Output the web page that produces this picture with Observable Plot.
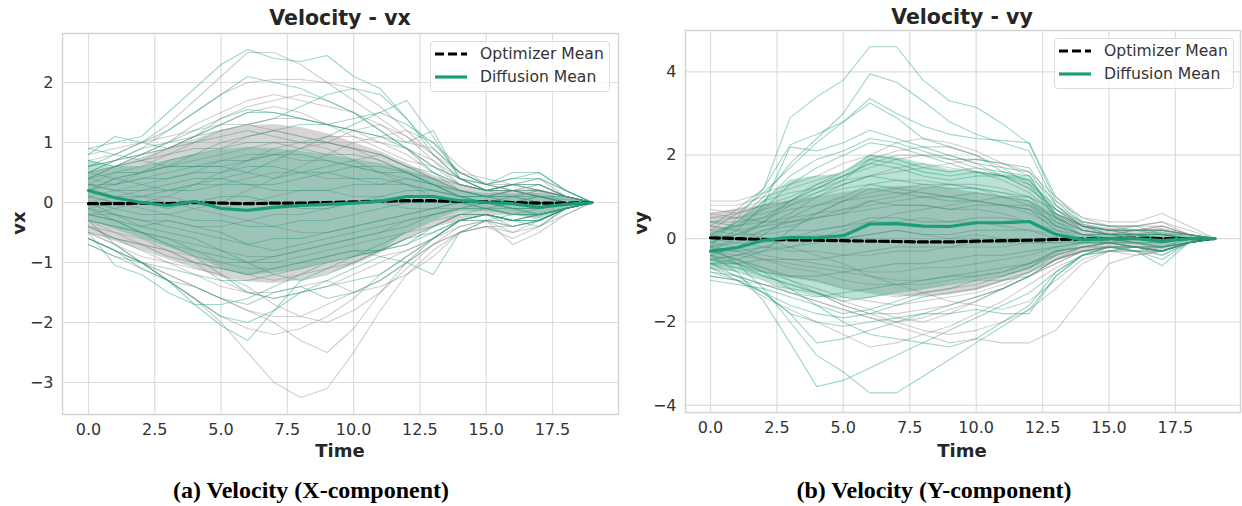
<!DOCTYPE html>
<html>
<head>
<meta charset="utf-8">
<script src="https://cdn.jsdelivr.net/npm/d3@7"></script>
<script src="https://cdn.jsdelivr.net/npm/@observablehq/plot@0.6"></script>
<style>
  html, body { margin: 0; padding: 0; background: #fff; }
  #root { position: relative; width: 1242px; height: 506px; overflow: hidden; font-family: "DejaVu Sans", sans-serif; color: #262626; }
  .panel { position: absolute; top: 0; }
  .title { position: absolute; font-weight: bold; font-size: 20.5px; transform: translate(-50%, -50%); white-space: nowrap; }
  .xlab { position: absolute; font-weight: bold; font-size: 18px; transform: translate(-50%, -50%); white-space: nowrap; }
  .ylab { position: absolute; font-weight: bold; font-size: 18px; transform: translate(-50%, -50%) rotate(-90deg); white-space: nowrap; }
  .caption { position: absolute; font-family: "Liberation Serif", "Times New Roman", serif; font-weight: bold; font-size: 24px; transform: translate(-50%, -50%); white-space: nowrap; color: #000; }
  .legend { position: absolute; border: 1px solid #dcdcdc; border-radius: 4px; background: rgba(255,255,255,0.8); box-sizing: border-box; }
  .legend .row { position: absolute; left: 0; height: 20px; display: flex; align-items: center; font-size: 15.6px; color: #333; white-space: nowrap; }
  .legend svg { margin-left: 4px; margin-right: 13px; }
</style>
</head>
<body>
<div id="root"></div>
<script>
// ---------- data ----------
const time = [0,1,2,3,4,5,6,7,8,9,10,11,12,13,14,15,16,17,18,19];
const xTicks = [0,2.5,5,7.5,10,12.5,15,17.5];
const vxTicks = [-3,-2,-1,0,1,2];
const vyTicks = [-4,-2,0,2,4];

// Optimizer trajectories, vx
const vxOptRuns = [
  [0.7,0.8,1.0,1.3,1.7,2.1,2.5,2.5,2.3,2.0,1.7,1.4,1.1,0.7,0.4,0.3,0.2,0.3,0.1,0],
  [0.5,0.7,0.9,1.2,1.5,1.8,2.0,2.05,2.05,2.0,1.9,1.6,1.2,0.8,0.5,0.3,0.3,0.2,0.1,0],
  [0.4,0.6,0.8,1.0,1.3,1.5,1.7,1.8,1.7,1.6,1.5,1.3,1.0,0.9,0.5,0.4,0.3,0.4,0.2,0],
  [0.6,0.7,0.8,0.9,1.1,1.3,1.5,1.6,1.5,1.3,1.1,0.9,0.7,0.6,0.4,0.3,0.2,0.2,0.1,0],
  [0.3,0.5,0.6,0.8,1.0,1.2,1.3,1.4,1.4,1.3,1.2,1.0,0.9,0.7,0.3,0.2,0.3,0.2,0.1,0],
  [0.2,0.3,0.5,0.6,0.8,0.9,1.1,1.2,1.1,1.0,0.9,0.8,0.6,0.4,0.2,0.1,0.2,0.1,0.05,0],
  [0.1,0.2,0.3,0.4,0.5,0.7,0.8,0.8,0.7,0.7,0.6,0.5,0.4,0.3,0.2,0.1,0.0,0.1,0.0,0],
  [0.0,0.1,0.2,0.2,0.3,0.3,0.4,0.5,0.5,0.4,0.4,0.3,0.3,0.2,0.1,0.1,0.1,0.0,0.0,0],
  [-0.1,0.0,0.1,0.1,0.0,-0.1,0.0,0.1,0.2,0.2,0.1,0.1,0.0,0.0,0.0,-0.1,0.0,-0.1,0.0,0],
  [-0.2,-0.2,-0.3,-0.3,-0.4,-0.4,-0.3,-0.2,-0.2,-0.1,0.0,0.0,-0.1,-0.1,0.0,0.0,-0.1,-0.1,0.0,0],
  [0.3,0.2,0.1,0.0,-0.1,-0.2,-0.3,-0.4,-0.5,-0.5,-0.4,-0.3,-0.2,-0.1,-0.1,0.0,-0.1,-0.1,0.0,0],
  [-0.3,-0.4,-0.5,-0.6,-0.7,-0.8,-0.9,-0.9,-0.8,-0.7,-0.6,-0.5,-0.3,-0.2,-0.1,-0.1,-0.2,-0.1,0.0,0],
  [-0.4,-0.5,-0.7,-0.8,-1.0,-1.1,-1.2,-1.3,-1.2,-1.1,-1.0,-0.8,-0.6,-0.4,-0.2,-0.2,-0.3,-0.2,-0.1,0],
  [-0.5,-0.7,-0.9,-1.0,-1.2,-1.4,-1.5,-1.6,-1.5,-1.4,-1.2,-1.0,-0.8,-0.6,-0.4,-0.3,-0.3,-0.2,-0.1,0],
  [-0.6,-0.8,-1.0,-1.2,-1.4,-1.6,-1.8,-1.9,-1.9,-1.7,-1.5,-1.3,-1.0,-0.7,-0.5,-0.4,-0.6,-0.4,-0.2,0],
  [-0.5,-0.7,-1.0,-1.2,-1.4,-1.6,-1.8,-2.0,-2.3,-2.5,-2.1,-1.5,-1.0,-0.7,-0.5,-0.3,-0.7,-0.5,-0.2,0],
  [-0.6,-0.8,-1.0,-1.3,-1.6,-2.0,-2.5,-3.0,-3.25,-3.1,-2.5,-1.8,-1.2,-0.8,-0.5,-0.4,-0.4,-0.3,-0.1,0],
  [-0.7,-0.9,-1.1,-1.3,-1.6,-1.9,-2.1,-2.2,-2.1,-1.9,-1.6,-1.2,-0.9,-0.6,-0.3,-0.3,-0.4,-0.3,-0.1,0],
  [0.8,0.9,1.0,1.1,1.2,1.3,1.3,1.2,1.1,1.0,0.9,0.7,0.5,0.4,0.3,0.2,0.1,0.2,0.1,0],
  [0.1,0.0,-0.1,-0.2,-0.1,0.0,0.2,0.4,0.6,0.8,1.0,1.1,1.2,1.0,0.6,0.3,0.2,0.1,0.0,0],
  [-0.1,-0.3,-0.5,-0.7,-0.8,-1.0,-1.1,-1.1,-1.0,-0.9,-0.8,-0.9,-0.8,-0.6,-0.3,-0.2,-0.4,-0.3,-0.1,0],
  [0.4,0.3,0.4,0.5,0.6,0.6,0.7,0.8,0.9,1.0,1.2,1.3,1.1,0.8,0.4,0.2,0.3,0.4,0.1,0],
  [-0.2,-0.1,0.0,0.1,0.3,0.5,0.7,0.9,1.0,0.9,0.7,0.5,0.3,0.1,0.0,-0.1,0.0,0.0,0.0,0],
  [-0.3,-0.5,-0.6,-0.8,-1.0,-1.3,-1.5,-1.5,-1.4,-1.3,-1.5,-1.4,-1.2,-0.9,-0.5,-0.4,-0.5,-0.3,-0.1,0],
  [0.5,0.6,0.7,0.9,1.1,1.4,1.6,1.7,1.8,1.7,1.5,1.2,0.9,0.6,0.3,0.2,0.2,0.3,0.1,0],
  [-0.4,-0.6,-0.8,-1.0,-1.1,-1.2,-1.4,-1.7,-1.9,-2.0,-1.8,-1.5,-1.1,-0.7,-0.4,-0.3,-0.5,-0.4,-0.1,0],
  [0.2,0.4,0.5,0.6,0.7,0.8,0.9,1.0,1.0,1.1,1.1,1.0,0.8,0.5,0.2,0.1,0.1,0.2,0.0,0],
  [-0.5,-0.6,-0.7,-0.8,-0.9,-1.0,-1.0,-1.0,-0.9,-0.8,-0.7,-0.6,-0.5,-0.4,-0.3,-0.2,-0.3,-0.2,-0.1,0]
];

// Diffusion trajectories, vx
const vxDiffRuns = [
  [0.9,1.0,1.1,1.5,1.9,2.3,2.55,2.4,2.35,2.45,2.1,1.9,1.4,0.9,0.5,0.3,0.4,0.5,0.2,0],
  [0.6,0.8,1.0,1.2,1.5,1.8,2.1,2.0,1.9,1.7,1.5,1.2,0.9,0.5,0.3,0.2,0.3,0.2,0.1,0],
  [0.5,0.7,0.8,1.0,1.2,1.4,1.55,1.5,1.4,1.3,1.2,1.1,1.0,1.2,0.4,0.3,0.5,0.5,0.2,0],
  [0.8,1.1,1.0,0.9,1.0,1.1,1.2,1.1,1.0,1.0,0.9,0.8,0.6,0.5,0.3,0.2,0.2,0.1,0.1,0],
  [0.7,0.6,0.7,0.8,0.9,0.9,1.0,1.0,0.9,0.8,0.8,0.7,0.5,0.3,0.2,0.1,0.2,0.2,0.1,0],
  [0.4,0.5,0.5,0.6,0.6,0.7,0.7,0.8,0.8,0.7,0.6,0.5,0.5,0.3,0.1,0.1,0.0,0.1,0.0,0],
  [0.3,0.3,0.4,0.4,0.5,0.5,0.6,0.6,0.5,0.5,0.4,0.4,0.3,0.2,0.1,0.0,0.1,0.0,0.0,0],
  [0.2,0.1,0.1,0.2,0.2,0.3,0.3,0.2,0.2,0.2,0.3,0.3,0.4,0.3,0.1,0.0,0.0,-0.1,0.0,0],
  [0.1,0.0,0.0,-0.1,0.0,0.1,0.1,0.0,-0.1,-0.1,0.0,0.1,0.2,0.2,0.1,0.0,-0.1,-0.1,0.0,0],
  [0.0,-0.1,-0.2,-0.2,-0.3,-0.3,-0.4,-0.4,-0.3,-0.3,-0.2,-0.1,0.0,0.0,0.0,-0.1,-0.1,-0.2,-0.1,0],
  [-0.1,-0.2,-0.3,-0.4,-0.5,-0.6,-0.7,-0.6,-0.6,-0.5,-0.4,-0.3,-0.2,-0.1,0.0,0.0,-0.1,-0.2,-0.1,0],
  [-0.3,-0.4,-0.5,-0.6,-0.8,-0.9,-1.0,-0.9,-0.8,-0.7,-0.6,-0.5,-0.4,-0.2,-0.1,-0.1,-0.2,-0.2,-0.1,0],
  [-0.4,-0.6,-0.7,-0.9,-1.0,-1.1,-1.2,-1.1,-1.0,-0.9,-0.8,-0.8,-0.7,-0.4,-0.2,-0.2,-0.3,-0.3,-0.1,0],
  [-0.5,-1.05,-1.2,-1.5,-1.7,-1.7,-1.6,-1.4,-1.2,-1.0,-0.9,-0.7,-0.5,-0.3,-0.2,-0.1,-0.2,-0.2,-0.1,0],
  [-0.3,-0.7,-1.0,-1.3,-1.7,-2.05,-2.3,-1.8,-1.3,-1.1,-0.9,-0.8,-0.6,-0.4,-0.2,-0.2,-0.3,-0.2,-0.1,0],
  [-0.6,-0.8,-1.0,-1.3,-1.6,-1.9,-2.0,-1.8,-1.5,-1.3,-1.1,-0.9,-1.0,-1.2,-0.5,-0.3,-0.2,-0.2,-0.1,0],
  [-0.2,-0.3,-0.5,-0.7,-0.9,-1.2,-1.5,-1.6,-1.5,-1.4,-1.3,-1.2,-0.9,-0.6,-0.3,-0.3,-0.4,-0.3,-0.1,0],
  [0.6,0.7,0.9,1.0,1.1,1.3,1.5,1.5,1.4,1.3,1.4,1.5,1.3,1.0,0.5,0.3,0.4,0.4,0.2,0],
  [0.2,0.4,0.5,0.7,0.8,1.0,1.1,1.2,1.3,1.3,1.2,1.1,0.9,0.6,0.4,0.2,0.2,0.1,0.0,0],
  [0.0,-0.2,-0.4,-0.5,-0.6,-0.8,-1.0,-1.2,-1.3,-1.2,-1.0,-0.8,-0.6,-0.5,-0.3,-0.2,-0.3,-0.3,-0.1,0],
  [0.5,0.4,0.3,0.2,0.3,0.4,0.5,0.7,0.9,1.1,1.3,1.5,1.7,1.1,0.4,0.2,0.3,0.3,0.1,0],
  [-0.2,-0.3,-0.4,-0.3,-0.4,-0.5,-0.7,-0.8,-0.7,-0.6,-0.5,-0.4,-0.3,-0.2,-0.1,0.0,0.0,0.0,0.0,0],
  [0.9,0.8,0.7,0.6,0.6,0.6,0.5,0.4,0.5,0.6,0.7,0.8,0.6,0.4,0.2,0.1,0.2,0.1,0.0,0],
  [-0.6,-0.8,-1.1,-1.3,-1.4,-1.6,-1.7,-1.5,-1.4,-1.6,-1.5,-1.3,-1.0,-0.6,-0.3,-0.2,-0.3,-0.3,-0.1,0],
  [0.4,0.6,0.8,0.9,1.1,1.2,1.3,1.4,1.6,1.8,1.9,1.8,1.4,0.8,0.4,0.2,0.3,0.3,0.1,0],
  [-0.7,-0.9,-1.0,-1.1,-1.2,-1.3,-1.3,-1.2,-1.1,-1.0,-0.9,-0.8,-0.7,-0.5,-0.3,-0.2,-0.3,-0.4,-0.1,0],
  [0.3,0.2,0.2,0.3,0.4,0.4,0.3,0.3,0.4,0.5,0.6,0.6,0.5,0.3,0.1,0.1,0.1,0.1,0.0,0]
];

const vxOptMean  = [-0.02,-0.02,-0.01,-0.02,0.0,-0.01,-0.02,-0.01,-0.01,0.0,0.01,0.02,0.03,0.03,0.02,0.01,0.0,-0.01,-0.01,0];
const vxDiffMean = [0.2,0.08,0.0,-0.05,0.02,-0.1,-0.13,-0.08,-0.05,-0.03,-0.01,0.02,0.1,0.1,0.03,0.0,-0.02,-0.08,-0.03,0];
const vxOptHi  = [0.5,0.6,0.75,0.9,1.05,1.2,1.28,1.3,1.25,1.15,1.0,0.85,0.65,0.45,0.3,0.2,0.2,0.22,0.1,0];
const vxOptLo  = [-0.5,-0.65,-0.8,-0.95,-1.1,-1.25,-1.32,-1.35,-1.3,-1.2,-1.05,-0.85,-0.6,-0.4,-0.3,-0.22,-0.22,-0.25,-0.12,0];
const vxDiffHi = [0.7,0.6,0.6,0.7,0.8,0.88,0.92,0.9,0.85,0.8,0.72,0.65,0.55,0.4,0.2,0.15,0.15,0.15,0.08,0];
const vxDiffLo = [-0.3,-0.45,-0.6,-0.75,-0.9,-1.1,-1.22,-1.18,-1.12,-1.0,-0.9,-0.82,-0.5,-0.3,-0.15,-0.15,-0.2,-0.3,-0.12,0];

// Optimizer trajectories, vy
const vyOptRuns = [
  [0.9,0.9,1.1,1.3,1.5,1.8,2.0,2.3,2.4,2.3,2.1,1.8,1.5,0.9,0.5,0.4,0.4,0.6,0.3,0],
  [0.8,0.8,1.0,1.2,1.4,1.6,1.9,2.1,2.2,2.2,2.0,1.7,1.3,0.8,0.4,0.3,0.3,0.4,0.2,0],
  [0.7,0.6,0.8,1.0,1.3,1.5,1.8,2.0,2.0,1.9,1.7,1.5,1.2,0.7,0.3,0.2,0.2,0.3,0.1,0],
  [0.6,0.7,0.9,1.1,1.2,1.4,1.5,1.7,1.8,1.7,1.6,1.4,1.1,0.6,0.3,0.2,0.2,0.2,0.1,0],
  [0.5,0.5,0.6,0.8,1.0,1.2,1.3,1.4,1.4,1.3,1.2,1.1,0.9,0.5,0.2,0.1,0.2,0.2,0.1,0],
  [0.4,0.4,0.5,0.7,0.8,0.9,1.0,1.1,1.1,1.0,0.9,0.8,0.6,0.3,0.1,0.1,0.1,0.1,0.0,0],
  [0.3,0.2,0.3,0.4,0.5,0.6,0.7,0.8,0.8,0.7,0.7,0.6,0.4,0.2,0.1,0.0,0.1,0.0,0.0,0],
  [0.2,0.1,0.1,0.2,0.2,0.3,0.4,0.4,0.5,0.4,0.4,0.3,0.2,0.1,0.0,0.0,0.0,0.0,0.0,0],
  [0.1,0.0,-0.1,0.0,0.1,0.0,0.1,0.2,0.1,0.0,0.1,0.0,0.0,0.0,0.0,-0.1,0.0,-0.1,0.0,0],
  [0.0,-0.1,-0.2,-0.3,-0.3,-0.4,-0.4,-0.3,-0.3,-0.2,-0.2,-0.2,-0.1,-0.1,0.0,0.0,-0.1,-0.1,0.0,0],
  [-0.1,-0.2,-0.4,-0.5,-0.6,-0.7,-0.8,-0.8,-0.7,-0.7,-0.6,-0.5,-0.4,-0.2,-0.1,-0.1,-0.1,-0.2,-0.1,0],
  [-0.2,-0.3,-0.5,-0.7,-0.8,-1.0,-1.1,-1.1,-1.1,-1.0,-0.9,-0.8,-0.6,-0.3,-0.2,-0.1,-0.2,-0.2,-0.1,0],
  [-0.4,-0.5,-0.7,-0.9,-1.0,-1.2,-1.3,-1.4,-1.3,-1.2,-1.1,-0.9,-0.7,-0.4,-0.2,-0.2,-0.2,-0.3,-0.1,0],
  [-0.5,-0.6,-0.8,-1.0,-1.2,-1.4,-1.5,-1.6,-1.5,-1.4,-1.3,-1.1,-0.8,-0.5,-0.3,-0.2,-0.3,-0.3,-0.1,0],
  [-0.6,-0.8,-1.0,-1.3,-1.5,-1.7,-1.9,-2.0,-1.9,-1.7,-1.5,-1.2,-0.9,-0.6,-0.3,-0.2,-0.3,-0.4,-0.1,0],
  [-0.8,-1.0,-1.4,-1.7,-2.0,-2.3,-2.6,-2.5,-2.3,-2.1,-1.8,-1.5,-1.1,-0.7,-0.4,-0.3,-0.3,-0.3,-0.1,0],
  [-0.7,-0.9,-1.1,-1.3,-1.5,-1.7,-1.9,-2.1,-2.3,-2.5,-2.4,-2.5,-2.5,-2.2,-1.4,-0.6,-0.4,-0.3,-0.1,0],
  [-0.3,-0.5,-0.7,-1.0,-1.3,-1.6,-1.8,-2.0,-2.2,-2.3,-2.2,-2.0,-1.7,-1.2,-0.6,-0.3,-0.2,-0.2,-0.1,0],
  [0.5,0.6,0.8,0.9,1.1,1.3,1.5,1.6,1.7,1.8,1.9,1.8,1.6,1.0,0.5,0.3,0.3,0.3,0.1,0],
  [-0.5,-0.4,-0.3,-0.2,0.0,0.2,0.4,0.6,0.7,0.8,0.9,1.0,1.0,0.7,0.3,0.2,0.2,0.2,0.1,0],
  [0.3,0.2,0.0,-0.2,-0.4,-0.6,-0.9,-1.1,-1.3,-1.5,-1.6,-1.7,-1.5,-1.0,-0.5,-0.3,-0.3,-0.2,-0.1,0],
  [-0.2,0.0,0.2,0.4,0.6,0.9,1.1,1.2,1.3,1.3,1.2,1.0,0.8,0.5,0.3,0.2,0.1,0.2,0.1,0],
  [-0.9,-1.0,-1.1,-1.2,-1.3,-1.5,-1.7,-1.9,-2.0,-1.8,-1.5,-1.2,-0.9,-0.6,-0.3,-0.3,-0.4,-0.3,-0.1,0],
  [0.6,0.5,0.4,0.4,0.5,0.7,0.9,1.0,1.2,1.3,1.3,1.2,1.0,0.6,0.3,0.2,0.2,0.3,0.1,0],
  [0.4,0.5,0.7,0.9,1.2,1.5,1.7,1.9,2.0,2.0,1.8,1.5,1.2,0.7,0.4,0.3,0.3,0.4,0.1,0],
  [-0.6,-0.7,-0.9,-1.1,-1.3,-1.6,-1.8,-1.8,-1.7,-1.6,-1.4,-1.2,-0.9,-0.5,-0.3,-0.2,-0.2,-0.3,-0.1,0],
  [0.2,0.3,0.4,0.5,0.6,0.7,0.8,0.9,1.0,1.0,0.9,0.8,0.7,0.4,0.2,0.1,0.1,0.1,0.0,0],
  [-0.3,-0.4,-0.5,-0.6,-0.7,-0.8,-0.9,-1.0,-1.0,-0.9,-0.9,-0.8,-0.6,-0.4,-0.2,-0.1,-0.2,-0.2,-0.1,0]
];

// Diffusion trajectories, vy
const vyDiffRuns = [
  [-0.2,0.5,1.2,2.9,3.4,3.8,4.6,4.6,3.8,3.3,3.15,2.75,2.27,0.9,0.35,0.2,0.2,0.2,0.1,0],
  [0.0,0.4,1.0,1.8,2.4,3.0,3.95,3.75,3.3,2.8,2.5,2.3,2.1,0.8,0.3,0.2,0.3,0.1,0.1,0],
  [0.2,0.6,1.1,1.7,2.3,2.8,3.36,3.0,2.7,2.5,2.4,2.35,2.3,1.0,0.4,0.3,0.2,0.2,0.1,0],
  [0.3,0.7,1.2,2.25,2.5,2.8,3.25,2.9,2.4,2.2,2.0,1.6,1.4,0.7,0.2,0.1,0.2,0.1,0.0,0],
  [-0.1,0.2,0.8,2.2,2.1,2.3,2.6,2.4,2.2,2.0,1.8,1.7,1.6,0.7,0.3,0.2,0.1,0.1,0.0,0],
  [0.1,0.3,0.7,1.3,1.7,2.0,2.3,2.2,2.0,1.8,1.6,1.5,1.4,0.6,0.3,0.1,0.1,0.0,0.0,0],
  [-0.3,0.0,0.4,0.8,1.1,1.4,1.9,1.8,1.6,1.5,1.6,1.5,1.3,0.5,0.2,0.1,0.0,0.0,0.0,0],
  [-0.4,-0.2,0.1,0.5,0.8,1.0,1.3,1.2,1.1,1.0,1.1,1.0,0.9,0.3,0.1,0.0,0.0,-0.1,0.0,0],
  [-0.2,-0.1,0.2,0.3,0.5,0.6,0.9,0.8,0.8,0.7,0.8,0.8,0.7,0.2,0.0,0.0,0.0,-0.1,0.0,0],
  [-0.5,-0.4,-0.2,0.0,0.2,0.3,0.5,0.5,0.4,0.4,0.5,0.5,0.4,0.1,0.0,0.0,-0.1,-0.1,0.0,0],
  [-0.3,-0.3,-0.2,-0.2,-0.1,0.0,0.1,0.2,0.1,0.1,0.2,0.2,0.2,0.0,-0.1,0.0,-0.1,-0.2,0.0,0],
  [-0.6,-0.6,-0.5,-0.5,-0.5,-0.4,-0.3,-0.2,-0.2,-0.2,-0.1,-0.1,-0.1,-0.1,-0.1,-0.1,-0.1,-0.2,-0.1,0],
  [-0.5,-0.7,-0.8,-0.9,-0.9,-0.8,-0.7,-0.6,-0.6,-0.5,-0.4,-0.4,-0.3,-0.2,-0.1,-0.1,-0.2,-0.3,-0.1,0],
  [-0.8,-0.9,-1.1,-1.3,-1.4,-1.3,-1.2,-1.1,-1.0,-0.9,-0.8,-0.7,-0.6,-0.3,-0.2,-0.1,-0.2,-0.4,-0.1,0],
  [-0.7,-1.0,-1.3,-1.6,-1.8,-1.9,-1.8,-1.6,-1.4,-1.3,-1.2,-1.0,-0.8,-0.4,-0.2,-0.2,-0.3,-0.5,-0.1,0],
  [-0.6,-0.9,-1.3,-1.8,-2.0,-2.1,-2.0,-1.9,-1.8,-1.8,-1.7,-1.8,-1.8,-0.9,-0.4,-0.2,-0.3,-0.65,-0.1,0],
  [-0.4,-0.8,-1.5,-2.5,-3.55,-3.4,-3.1,-2.8,-2.5,-2.2,-1.9,-1.6,-1.3,-0.8,-0.4,-0.2,-0.2,-0.3,-0.1,0],
  [-0.2,-0.6,-1.2,-2.0,-2.8,-3.2,-3.7,-3.7,-3.3,-2.9,-2.5,-2.1,-1.7,-0.9,-0.4,-0.3,-0.2,-0.2,-0.1,0],
  [-0.9,-1.0,-1.3,-1.8,-2.5,-2.4,-2.2,-2.0,-1.8,-1.6,-1.4,-1.2,-0.9,-0.5,-0.3,-0.2,-0.2,-0.3,-0.1,0],
  [-0.3,-0.5,-0.8,-1.2,-1.6,-2.0,-2.3,-2.4,-2.5,-2.6,-2.4,-2.0,-1.6,-0.8,-0.4,-0.2,-0.2,-0.3,-0.1,0],
  [0.4,0.3,0.5,0.9,1.2,1.5,1.8,1.7,1.5,1.4,1.5,1.5,1.5,0.6,0.2,0.1,0.1,0.0,0.0,0],
  [-0.6,-0.5,-0.3,0.2,0.6,0.9,1.2,1.1,1.0,0.9,0.9,0.8,0.8,0.3,0.1,0.1,0.0,-0.1,0.0,0],
  [-1.0,-1.1,-1.2,-1.4,-1.6,-1.8,-1.7,-1.5,-1.3,-1.2,-1.0,-0.9,-0.7,-0.3,-0.2,-0.1,-0.2,-0.3,-0.1,0],
  [0.0,0.1,0.3,0.6,1.0,1.3,1.5,1.4,1.3,1.2,1.2,1.1,1.0,0.4,0.1,0.0,0.1,0.0,0.0,0],
  [0.1,0.4,0.9,1.5,1.9,2.1,2.4,2.3,2.1,1.9,1.9,1.8,1.7,0.8,0.3,0.1,0.1,0.1,0.0,0],
  [-0.4,-0.6,-0.9,-1.1,-1.3,-1.5,-1.4,-1.3,-1.2,-1.1,-1.0,-1.0,-0.9,-0.5,-0.2,-0.1,-0.2,-0.3,-0.1,0],
  [-0.1,0.1,0.4,0.9,1.3,1.6,2.0,1.9,1.7,1.6,1.7,1.6,1.5,0.5,0.2,0.1,0.1,0.1,0.0,0]
];

const vyOptMean  = [0.02,0.0,-0.02,-0.03,-0.04,-0.05,-0.06,-0.07,-0.08,-0.08,-0.06,-0.05,-0.04,-0.02,-0.01,0.0,0.01,0.0,0.0,0];
const vyDiffMean = [-0.3,-0.22,-0.04,0.03,0.02,0.07,0.35,0.36,0.3,0.29,0.38,0.38,0.41,0.1,-0.03,0.0,0.0,-0.05,0.0,0];
const vyOptHi  = [0.6,0.7,0.8,0.9,1.0,1.1,1.2,1.25,1.25,1.2,1.1,1.0,0.9,0.6,0.35,0.25,0.2,0.25,0.1,0];
const vyOptLo  = [-0.55,-0.65,-0.8,-0.95,-1.05,-1.2,-1.3,-1.38,-1.4,-1.35,-1.25,-1.05,-0.85,-0.55,-0.35,-0.25,-0.2,-0.3,-0.12,0];
const vyDiffHi = [0.15,0.35,0.9,1.4,1.5,1.55,2.0,1.95,1.8,1.65,1.6,1.55,1.45,0.6,0.1,0.12,0.12,0.15,0.08,0];
const vyDiffLo = [-0.75,-0.8,-1.0,-1.25,-1.4,-1.45,-1.45,-1.3,-1.2,-1.1,-1.0,-0.9,-0.75,-0.4,-0.15,-0.12,-0.15,-0.25,-0.1,0];

// ---------- drawing ----------
const GRAY = "#808080";
const GREEN = "#1b9e77";

function tidy(runs) {
  return runs.flatMap((r, i) => r.map((v, j) => ({t: time[j], v, run: i})));
}
function band(lo, hi) {
  return time.map((t, j) => ({t, lo: lo[j], hi: hi[j]}));
}
function series(vals) {
  return time.map((t, j) => ({t, v: vals[j]}));
}
function fmtY(d) { return d < 0 ? "\u2212" + Math.abs(d) : String(d); }

function panel(cfg) {
  return Plot.plot({
    width: 621,
    height: 460,
    marginLeft: cfg.ml, marginRight: cfg.mr, marginTop: cfg.mt, marginBottom: cfg.mb,
    x: {domain: cfg.xd},
    y: {domain: cfg.yd},
    style: {fontFamily: "DejaVu Sans", fontSize: "16px", color: "#333", background: "transparent", overflow: "visible"},
    marks: [
      Plot.gridX(xTicks, {stroke: "#dddddd", strokeOpacity: 1, strokeWidth: 1.2}),
      Plot.gridY(cfg.yTicks, {stroke: "#dddddd", strokeOpacity: 1, strokeWidth: 1.2}),
      Plot.line(tidy(cfg.optRuns), {x: "t", y: "v", z: "run", stroke: GRAY, strokeOpacity: 0.38, strokeWidth: 1.1}),
      Plot.line(tidy(cfg.diffRuns), {x: "t", y: "v", z: "run", stroke: GREEN, strokeOpacity: 0.42, strokeWidth: 1.1}),
      Plot.areaY(band(cfg.optLo, cfg.optHi), {x: "t", y1: "lo", y2: "hi", fill: GRAY, fillOpacity: 0.33}),
      Plot.areaY(band(cfg.diffLo, cfg.diffHi), {x: "t", y1: "lo", y2: "hi", fill: GREEN, fillOpacity: 0.3}),
      Plot.line(series(cfg.optMean), {x: "t", y: "v", stroke: "#000", strokeWidth: 3.2, strokeDasharray: "9,4"}),
      Plot.line(series(cfg.diffMean), {x: "t", y: "v", stroke: GREEN, strokeWidth: 3.2}),
      Plot.frame({stroke: "#d4d4d4", strokeWidth: 1.5}),
      Plot.axisX(xTicks, {tickSize: 0, tickPadding: 9, tickFormat: d => d.toFixed(1), label: null, fill: "#333"}),
      Plot.axisY(cfg.yTicks, {tickSize: 0, tickPadding: 9, tickFormat: fmtY, label: null, fill: "#333"})
    ]
  });
}

const root = document.getElementById("root");

function addPanel(left, cfg, texts) {
  const div = document.createElement("div");
  div.className = "panel";
  div.style.left = left + "px";
  div.appendChild(panel(cfg));
  root.appendChild(div);
  const add = (cls, txt, x, y) => {
    const e = document.createElement("div");
    e.className = cls; e.textContent = txt;
    e.style.left = x + "px"; e.style.top = y + "px";
    root.appendChild(e);
  };
  add("title", texts.title, texts.cx, texts.ty);
  add("xlab", "Time", texts.cx, 450);
  add("ylab", texts.ylab, texts.yx, 223);
  add("caption", texts.caption, texts.capx, 490);
  // legend
  const lg = document.createElement("div");
  lg.className = "legend";
  lg.style.left = texts.lx + "px"; lg.style.top = texts.ly + "px";
  lg.style.width = "180px"; lg.style.height = "51px";
  const rows = [
    {label: "Optimizer Mean", stroke: "#000", dash: "9,4", top: 2},
    {label: "Diffusion Mean", stroke: GREEN, dash: null, top: 25}
  ];
  for (const r of rows) {
    const row = document.createElement("div");
    row.className = "row"; row.style.top = r.top + "px";
    row.innerHTML = `<svg width="32" height="8"><line x1="0" x2="32" y1="4" y2="4" stroke="${r.stroke}" stroke-width="3.2" ${r.dash ? `stroke-dasharray="${r.dash}"` : ""}/></svg><span>${r.label}</span>`;
    lg.appendChild(row);
  }
  root.appendChild(lg);
}

addPanel(0, {
  ml: 62, mr: 3, mt: 33, mb: 46,
  xd: [-0.98, 19.99], yd: [-3.533, 2.817], yTicks: vxTicks,
  optRuns: vxOptRuns, diffRuns: vxDiffRuns,
  optMean: vxOptMean, diffMean: vxDiffMean,
  optLo: vxOptLo, optHi: vxOptHi, diffLo: vxDiffLo, diffHi: vxDiffHi
}, {title: "Velocity - vx", cx: 340, ty: 18, ylab: "vx", yx: 18, caption: "(a) Velocity (X-component)", capx: 311, lx: 430, ly: 41});

addPanel(621, {
  ml: 64, mr: 2, mt: 30, mb: 48,
  xd: [-0.94, 19.95], yd: [-4.17, 4.99], yTicks: vyTicks,
  optRuns: vyOptRuns, diffRuns: vyDiffRuns,
  optMean: vyOptMean, diffMean: vyDiffMean,
  optLo: vyOptLo, optHi: vyOptHi, diffLo: vyDiffLo, diffHi: vyDiffHi
}, {title: "Velocity - vy", cx: 962, ty: 17, ylab: "vy", yx: 640, caption: "(b) Velocity (Y-component)", capx: 934, lx: 1054, ly: 38});
</script>
</body>
</html>
